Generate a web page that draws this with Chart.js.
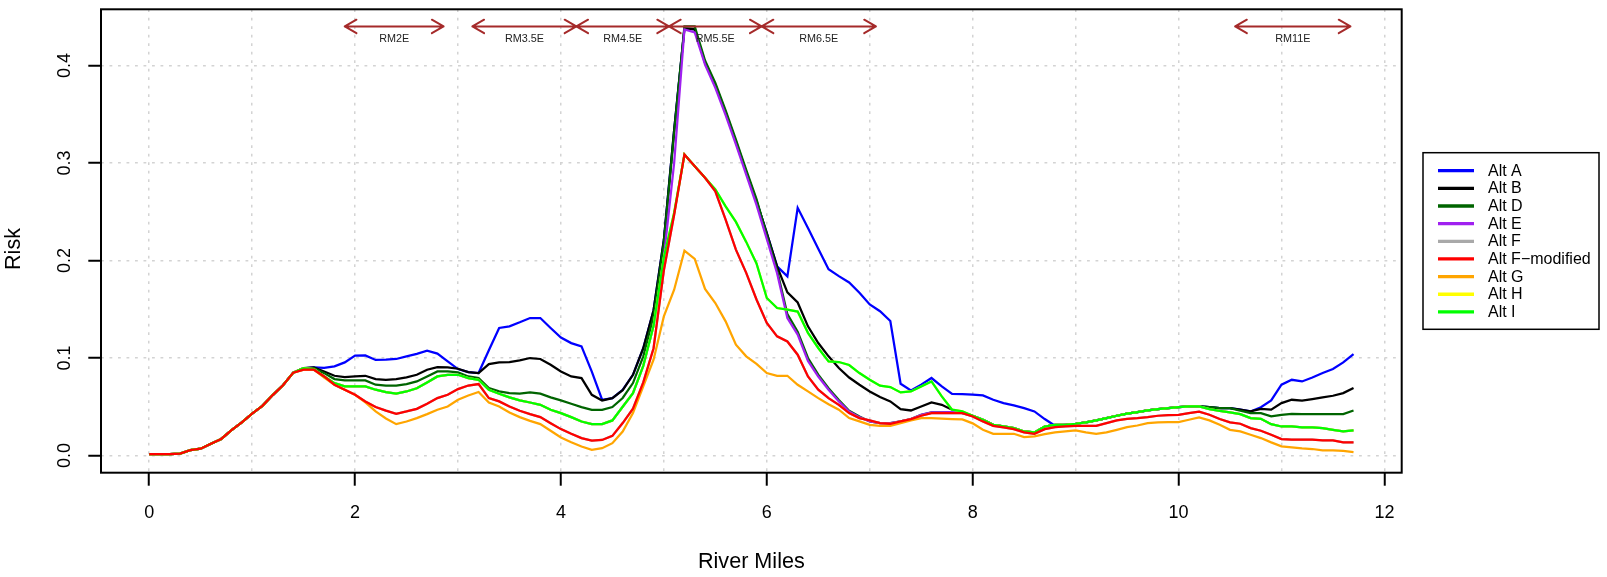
<!DOCTYPE html>
<html>
<head>
<meta charset="utf-8">
<script src="https://cdn.jsdelivr.net/npm/chart.js@4"></script>
<style>
  html, body { margin: 0; padding: 0; background: #fff; }
  canvas { display: block; }
</style>
</head>
<body>
<canvas id="riskChart" width="1607" height="577"></canvas>
<script>
// river mile of every sample
const miles = [
  0.0, 0.1, 0.2, 0.3, 0.4, 0.5, 0.6, 0.7, 0.8, 0.9,
  1.0, 1.1, 1.2, 1.3, 1.4, 1.5, 1.6, 1.7, 1.8, 1.9,
  2.0, 2.1, 2.2, 2.3, 2.4, 2.5, 2.6, 2.7, 2.8, 2.9,
  3.0, 3.1, 3.2, 3.3, 3.4, 3.5, 3.6, 3.7, 3.8, 3.9,
  4.0, 4.1, 4.2, 4.3, 4.4, 4.5, 4.6, 4.7, 4.8, 4.9,
  5.0, 5.1, 5.2, 5.3, 5.4, 5.5, 5.6, 5.7, 5.8, 5.9,
  6.0, 6.1, 6.2, 6.3, 6.4, 6.5, 6.6, 6.7, 6.8, 6.9,
  7.0, 7.1, 7.2, 7.3, 7.4, 7.5, 7.6, 7.7, 7.8, 7.9,
  8.0, 8.1, 8.2, 8.3, 8.4, 8.5, 8.6, 8.7, 8.8, 8.9,
  9.0, 9.1, 9.2, 9.3, 9.4, 9.5, 9.6, 9.7, 9.8, 9.9,
  10.0, 10.1, 10.2, 10.3, 10.4, 10.5, 10.6, 10.7, 10.8, 10.9,
  11.0, 11.1, 11.2, 11.3, 11.4, 11.5, 11.6, 11.7
];

const altA = [
  0.0015, 0.0015, 0.0015, 0.002, 0.0055, 0.007, 0.012, 0.017, 0.026, 0.034,
  0.043, 0.051, 0.062, 0.072, 0.085, 0.0895, 0.0904, 0.0900, 0.0914, 0.0955,
  0.1024, 0.1027, 0.0980, 0.0983, 0.0990, 0.1016, 0.1043, 0.1075, 0.1045, 0.0965,
  0.0887, 0.0856, 0.0846, 0.1080, 0.1308, 0.1325, 0.1366, 0.1410, 0.1410, 0.1308,
  0.1210, 0.1153, 0.1120, 0.0860, 0.0572, 0.0589, 0.0674, 0.0828, 0.1100, 0.1490,
  0.2210, 0.3340, 0.4380, 0.4370, 0.4030, 0.3800, 0.3520, 0.3220, 0.2910, 0.2610,
  0.2280, 0.1940, 0.1838, 0.2540, 0.2334, 0.2120, 0.1910, 0.1840, 0.1775, 0.1670,
  0.1550, 0.1480, 0.1380, 0.0736, 0.0668, 0.0726, 0.0795, 0.0709, 0.0632, 0.0630,
  0.0625, 0.0616, 0.0572, 0.0538, 0.0514, 0.0486, 0.0452, 0.0374, 0.0305, 0.0315,
  0.0326, 0.0340, 0.0360, 0.0384, 0.0408, 0.0429, 0.0445, 0.0462, 0.0476, 0.0486,
  0.0497, 0.0503, 0.0503, 0.0497, 0.0486, 0.0486, 0.0470, 0.0452, 0.0496, 0.0565,
  0.0726, 0.0777, 0.0760, 0.0801, 0.0846, 0.0887, 0.0955, 0.1041
];

const altB = [
  0.0015, 0.0015, 0.0015, 0.002, 0.0055, 0.007, 0.012, 0.017, 0.026, 0.034,
  0.043, 0.051, 0.062, 0.072, 0.085, 0.0897, 0.0904, 0.0862, 0.0818, 0.0804,
  0.0811, 0.0818, 0.0784, 0.0777, 0.0784, 0.0801, 0.0828, 0.0880, 0.0907, 0.0904,
  0.0890, 0.0856, 0.0846, 0.0938, 0.0955, 0.0958, 0.0975, 0.1000, 0.0990, 0.0931,
  0.0862, 0.0811, 0.0794, 0.0623, 0.0565, 0.0589, 0.0670, 0.0828, 0.1100, 0.1490,
  0.2210, 0.3340, 0.4380, 0.4370, 0.4030, 0.3800, 0.3520, 0.3220, 0.2910, 0.2610,
  0.2280, 0.1940, 0.1674, 0.1570, 0.1325, 0.1154, 0.1017, 0.0897, 0.0800, 0.0726,
  0.0657, 0.0600, 0.0555, 0.0476, 0.0462, 0.0503, 0.0544, 0.0520, 0.0470, 0.0435,
  0.0408, 0.0367, 0.0315, 0.0298, 0.0281, 0.0247, 0.0237, 0.0298, 0.0315, 0.0315,
  0.0326, 0.0340, 0.0360, 0.0384, 0.0408, 0.0429, 0.0445, 0.0462, 0.0476, 0.0486,
  0.0497, 0.0503, 0.0503, 0.0497, 0.0486, 0.0486, 0.0470, 0.0452, 0.0479, 0.0470,
  0.0538, 0.0572, 0.0562, 0.0579, 0.0596, 0.0613, 0.0640, 0.0692
];

const altD = [
  0.0015, 0.0015, 0.0015, 0.002, 0.0055, 0.007, 0.012, 0.017, 0.026, 0.034,
  0.043, 0.051, 0.062, 0.072, 0.085, 0.0897, 0.0897, 0.0845, 0.0784, 0.0770,
  0.0770, 0.0770, 0.0726, 0.0716, 0.0716, 0.0733, 0.0760, 0.0811, 0.0862, 0.0862,
  0.0852, 0.0811, 0.0794, 0.0692, 0.0658, 0.0641, 0.0634, 0.0648, 0.0634, 0.0596,
  0.0565, 0.0531, 0.0497, 0.0469, 0.0469, 0.0497, 0.0590, 0.0743, 0.1017, 0.1427,
  0.2180, 0.3310, 0.4400, 0.4400, 0.4050, 0.3820, 0.3540, 0.3240, 0.2930, 0.2630,
  0.2260, 0.1900, 0.1450, 0.1270, 0.1000, 0.0830, 0.0690, 0.0570, 0.0460, 0.0400,
  0.0350, 0.0333, 0.0333, 0.0350, 0.0374, 0.0418, 0.0442, 0.0442, 0.0445, 0.0445,
  0.0408, 0.0367, 0.0315, 0.0298, 0.0281, 0.0247, 0.0237, 0.0298, 0.0315, 0.0315,
  0.0326, 0.0340, 0.0360, 0.0384, 0.0408, 0.0429, 0.0445, 0.0462, 0.0476, 0.0486,
  0.0497, 0.0503, 0.0503, 0.0497, 0.0486, 0.0486, 0.0459, 0.0435, 0.0435, 0.0401,
  0.0418, 0.0428, 0.0425, 0.0425, 0.0425, 0.0425, 0.0425, 0.0462
];

const altE = [
  0.0015, 0.0015, 0.0015, 0.002, 0.0055, 0.007, 0.012, 0.017, 0.026, 0.034,
  0.043, 0.051, 0.062, 0.072, 0.085, 0.0895, 0.0887, 0.0811, 0.0743, 0.0709,
  0.0709, 0.0709, 0.0675, 0.0650, 0.0636, 0.0657, 0.0690, 0.0750, 0.0811, 0.0828,
  0.0828, 0.0794, 0.0777, 0.0675, 0.0634, 0.0596, 0.0565, 0.0544, 0.0520, 0.0469,
  0.0435, 0.0394, 0.0349, 0.0322, 0.0322, 0.0360, 0.0500, 0.0640, 0.0920, 0.1330,
  0.2030, 0.3000, 0.4370, 0.4340, 0.4010, 0.3770, 0.3490, 0.3190, 0.2880, 0.2570,
  0.2220, 0.1870, 0.1410, 0.1240, 0.0970, 0.0810, 0.0675, 0.0555, 0.0452, 0.0394,
  0.0350, 0.0333, 0.0333, 0.0350, 0.0374, 0.0418, 0.0442, 0.0442, 0.0445, 0.0445,
  0.0408, 0.0367, 0.0315, 0.0298, 0.0281, 0.0247, 0.0237, 0.0298, 0.0315, 0.0315,
  0.0326, 0.0340, 0.0360, 0.0384, 0.0408, 0.0429, 0.0445, 0.0462, 0.0476, 0.0486,
  0.0497, 0.0503, 0.0503, 0.0476, 0.0459, 0.0442, 0.0425, 0.0384, 0.0377, 0.0322,
  0.0298, 0.0298, 0.0288, 0.0288, 0.0281, 0.0264, 0.0247, 0.0257
];

// Alt F sits exactly under Alt F-modified in the picture
const altF = [
  0.0015, 0.0015, 0.0015, 0.002, 0.0055, 0.007, 0.012, 0.017, 0.026, 0.034,
  0.043, 0.051, 0.062, 0.072, 0.085, 0.0880, 0.0880, 0.0811, 0.0726, 0.0675,
  0.0623, 0.0555, 0.0497, 0.0460, 0.0428, 0.0452, 0.0479, 0.0531, 0.0589, 0.0623,
  0.0681, 0.0718, 0.0733, 0.0589, 0.0555, 0.0503, 0.0459, 0.0425, 0.0394, 0.0332,
  0.0271, 0.0223, 0.0179, 0.0154, 0.0160, 0.0202, 0.0333, 0.0480, 0.0750, 0.1100,
  0.1900, 0.2470, 0.3087, 0.2967, 0.2848, 0.2710, 0.2420, 0.2112, 0.1873, 0.1600,
  0.1360, 0.1222, 0.1170, 0.1034, 0.0811, 0.0675, 0.0589, 0.0520, 0.0435, 0.0384,
  0.0360, 0.0333, 0.0326, 0.0350, 0.0374, 0.0408, 0.0435, 0.0435, 0.0435, 0.0435,
  0.0401, 0.0350, 0.0305, 0.0288, 0.0271, 0.0237, 0.0223, 0.0271, 0.0291, 0.0298,
  0.0305, 0.0305, 0.0305, 0.0333, 0.0360, 0.0377, 0.0384, 0.0394, 0.0408, 0.0415,
  0.0418, 0.0435, 0.0449, 0.0418, 0.0374, 0.0340, 0.0326, 0.0281, 0.0254, 0.0213,
  0.0169, 0.0162, 0.0162, 0.0162, 0.0155, 0.0155, 0.0135, 0.0135
];

const altFmod = [
  0.0015, 0.0015, 0.0015, 0.002, 0.0055, 0.007, 0.012, 0.017, 0.026, 0.034,
  0.043, 0.051, 0.062, 0.072, 0.085, 0.0880, 0.0880, 0.0811, 0.0726, 0.0675,
  0.0623, 0.0555, 0.0497, 0.0460, 0.0428, 0.0452, 0.0479, 0.0531, 0.0589, 0.0623,
  0.0681, 0.0718, 0.0733, 0.0589, 0.0555, 0.0503, 0.0459, 0.0425, 0.0394, 0.0332,
  0.0271, 0.0223, 0.0179, 0.0154, 0.0160, 0.0202, 0.0333, 0.0480, 0.0750, 0.1100,
  0.1900, 0.2470, 0.3087, 0.2967, 0.2848, 0.2710, 0.2420, 0.2112, 0.1873, 0.1600,
  0.1360, 0.1222, 0.1170, 0.1034, 0.0811, 0.0675, 0.0589, 0.0520, 0.0435, 0.0384,
  0.0360, 0.0333, 0.0326, 0.0350, 0.0374, 0.0408, 0.0435, 0.0435, 0.0435, 0.0435,
  0.0401, 0.0350, 0.0305, 0.0288, 0.0271, 0.0237, 0.0223, 0.0271, 0.0291, 0.0298,
  0.0305, 0.0305, 0.0305, 0.0333, 0.0360, 0.0377, 0.0384, 0.0394, 0.0408, 0.0415,
  0.0418, 0.0435, 0.0449, 0.0418, 0.0374, 0.0340, 0.0326, 0.0281, 0.0254, 0.0213,
  0.0169, 0.0162, 0.0162, 0.0162, 0.0155, 0.0155, 0.0135, 0.0135
];

const altG = [
  0.0015, 0.0015, 0.0015, 0.002, 0.0055, 0.007, 0.012, 0.017, 0.026, 0.034,
  0.043, 0.051, 0.062, 0.072, 0.085, 0.0880, 0.0880, 0.0800, 0.0726, 0.0675,
  0.0623, 0.0545, 0.0452, 0.0380, 0.0322, 0.0349, 0.0384, 0.0425, 0.0469, 0.0503,
  0.0572, 0.0616, 0.0651, 0.0544, 0.0503, 0.0442, 0.0394, 0.0356, 0.0322, 0.0254,
  0.0185, 0.0137, 0.0092, 0.0058, 0.0075, 0.0127, 0.0246, 0.0435, 0.0709, 0.0983,
  0.1427, 0.1700, 0.2101, 0.2016, 0.1708, 0.1564, 0.1376, 0.1137, 0.1017, 0.0940,
  0.0846, 0.0818, 0.0818, 0.0726, 0.0658, 0.0589, 0.0527, 0.0470, 0.0384, 0.0350,
  0.0315, 0.0305, 0.0305, 0.0333, 0.0360, 0.0384, 0.0384, 0.0378, 0.0374, 0.0370,
  0.0330, 0.0264, 0.0223, 0.0223, 0.0223, 0.0189, 0.0196, 0.0219, 0.0237, 0.0247,
  0.0257, 0.0237, 0.0223, 0.0237, 0.0264, 0.0291, 0.0308, 0.0333, 0.0339, 0.0343,
  0.0343, 0.0367, 0.0391, 0.0360, 0.0315, 0.0264, 0.0247, 0.0213, 0.0179, 0.0135,
  0.0094, 0.0084, 0.0074, 0.0067, 0.0053, 0.0053, 0.0047, 0.0036
];

// Alt H sits exactly under Alt I in the picture
const altH = [
  0.0015, 0.0015, 0.0015, 0.002, 0.0055, 0.007, 0.012, 0.017, 0.026, 0.034,
  0.043, 0.051, 0.062, 0.072, 0.085, 0.0895, 0.0887, 0.0811, 0.0743, 0.0709,
  0.0709, 0.0709, 0.0675, 0.0650, 0.0636, 0.0657, 0.0690, 0.0750, 0.0811, 0.0828,
  0.0828, 0.0794, 0.0777, 0.0675, 0.0634, 0.0596, 0.0565, 0.0544, 0.0520, 0.0469,
  0.0435, 0.0394, 0.0349, 0.0322, 0.0322, 0.0360, 0.0500, 0.0640, 0.0920, 0.1330,
  0.2030, 0.2490, 0.3087, 0.2967, 0.2848, 0.2728, 0.2555, 0.2396, 0.2191, 0.1969,
  0.1616, 0.1513, 0.1496, 0.1476, 0.1258, 0.1103, 0.0966, 0.0959, 0.0928, 0.0846,
  0.0777, 0.0716, 0.0702, 0.0647, 0.0657, 0.0709, 0.0760, 0.0606, 0.0470, 0.0452,
  0.0408, 0.0367, 0.0315, 0.0298, 0.0281, 0.0247, 0.0237, 0.0298, 0.0315, 0.0315,
  0.0326, 0.0340, 0.0360, 0.0384, 0.0408, 0.0429, 0.0445, 0.0462, 0.0476, 0.0486,
  0.0497, 0.0503, 0.0503, 0.0476, 0.0459, 0.0442, 0.0425, 0.0384, 0.0377, 0.0322,
  0.0298, 0.0298, 0.0288, 0.0288, 0.0281, 0.0264, 0.0247, 0.0257
];

const altI = [
  0.0015, 0.0015, 0.0015, 0.002, 0.0055, 0.007, 0.012, 0.017, 0.026, 0.034,
  0.043, 0.051, 0.062, 0.072, 0.085, 0.0895, 0.0887, 0.0811, 0.0743, 0.0709,
  0.0709, 0.0709, 0.0675, 0.0650, 0.0636, 0.0657, 0.0690, 0.0750, 0.0811, 0.0828,
  0.0828, 0.0794, 0.0777, 0.0675, 0.0634, 0.0596, 0.0565, 0.0544, 0.0520, 0.0469,
  0.0435, 0.0394, 0.0349, 0.0322, 0.0322, 0.0360, 0.0500, 0.0640, 0.0920, 0.1330,
  0.2030, 0.2490, 0.3087, 0.2967, 0.2848, 0.2728, 0.2555, 0.2396, 0.2191, 0.1969,
  0.1616, 0.1513, 0.1496, 0.1476, 0.1258, 0.1103, 0.0966, 0.0959, 0.0928, 0.0846,
  0.0777, 0.0716, 0.0702, 0.0647, 0.0657, 0.0709, 0.0760, 0.0606, 0.0470, 0.0452,
  0.0408, 0.0367, 0.0315, 0.0298, 0.0281, 0.0247, 0.0237, 0.0298, 0.0315, 0.0315,
  0.0326, 0.0340, 0.0360, 0.0384, 0.0408, 0.0429, 0.0445, 0.0462, 0.0476, 0.0486,
  0.0497, 0.0503, 0.0503, 0.0476, 0.0459, 0.0442, 0.0425, 0.0384, 0.0377, 0.0322,
  0.0298, 0.0298, 0.0288, 0.0288, 0.0281, 0.0264, 0.0247, 0.0257
];

const seriesNames = ['Alt A', 'Alt B', 'Alt D', 'Alt E', 'Alt F', 'Alt F\u2212modified', 'Alt G', 'Alt H', 'Alt I'];
const seriesValues = [altA, altB, altD, altE, altF, altFmod, altG, altH, altI];
const seriesColors = ['#0000FF', '#000000', '#006400', '#A020F0', '#A9A9A9', '#FF0000', '#FFA500', '#FFFF00', '#00FF00'];
// stacking: lower number is painted later (on top); F-modified ends up on top
const seriesOrder = [9, 8, 7, 6, 5, 1, 4, 3, 2];

// reach markers along the top
const reachLabels = ['RM2E', 'RM3.5E', 'RM4.5E', 'RM5.5E', 'RM6.5E', 'RM11E'];
const reachStart = [1.9, 3.14, 4.15, 5.05, 5.95, 10.55];
const reachEnd = [2.86, 4.15, 5.05, 5.95, 7.06, 11.67];
const reachArrowRisk = 0.44;
const reachTextRisk = 0.427;

const xTicks = [0, 1, 2, 3, 4, 5, 6, 7, 8, 9, 10, 11, 12];
const yTicks = [0, 0.1, 0.2, 0.3, 0.4];

const fontFamily = '"Liberation Sans", Arial, Helvetica, sans-serif';
const gridColor = '#D3D3D3';
const arrowColor = '#A52A2A';

const datasets = seriesNames.map((name, i) => ({
  label: name,
  data: miles.map((m, j) => ({ x: m, y: seriesValues[i][j] })),
  borderColor: seriesColors[i],
  backgroundColor: seriesColors[i],
  borderWidth: 2.25,
  pointRadius: 0,
  fill: false,
  tension: 0,
  order: seriesOrder[i]
}));

// no label overflow padding, the plot box is placed by layout.padding
function noLabelPadding(s) {
  s.paddingTop = 0;
  s.paddingBottom = 0;
  s.paddingLeft = 0;
  s.paddingRight = 0;
}

const overlay = {
  id: 'overlay',
  afterDatasetsDraw(chart) {
    const { ctx, scales: { x, y } } = chart;
    const ay = y.getPixelForValue(reachArrowRisk);
    const ty = y.getPixelForValue(reachTextRisk);
    const hl = 13.5;
    const dx = hl * Math.cos(Math.PI / 6);
    const dy = hl * Math.sin(Math.PI / 6);
    ctx.save();
    ctx.strokeStyle = arrowColor;
    ctx.lineWidth = 2;
    ctx.lineCap = 'round';
    ctx.lineJoin = 'round';
    reachLabels.forEach((lab, i) => {
      const x0 = x.getPixelForValue(reachStart[i]);
      const x1 = x.getPixelForValue(reachEnd[i]);
      ctx.beginPath();
      ctx.moveTo(x0, ay);
      ctx.lineTo(x1, ay);
      ctx.moveTo(x0 + dx, ay - dy);
      ctx.lineTo(x0, ay);
      ctx.lineTo(x0 + dx, ay + dy);
      ctx.moveTo(x1 - dx, ay - dy);
      ctx.lineTo(x1, ay);
      ctx.lineTo(x1 - dx, ay + dy);
      ctx.stroke();
      ctx.fillStyle = '#222';
      ctx.font = '10.8px ' + fontFamily;
      ctx.textAlign = 'center';
      ctx.textBaseline = 'middle';
      ctx.fillText(lab, (x0 + x1) / 2, ty);
    });
    ctx.restore();
  },
  afterDraw(chart) {
    const { ctx, chartArea: a } = chart;
    ctx.save();
    // plot box
    ctx.strokeStyle = '#000';
    ctx.lineWidth = 2;
    ctx.strokeRect(a.left, a.top, a.right - a.left, a.bottom - a.top);

    // y axis title, sits a little below the middle of the box in the original
    ctx.save();
    ctx.translate(14.3, 249);
    ctx.rotate(-Math.PI / 2);
    ctx.fillStyle = '#000';
    ctx.font = '21.6px ' + fontFamily;
    ctx.textAlign = 'center';
    ctx.textBaseline = 'middle';
    ctx.fillText('Risk', 0, 0);
    ctx.restore();

    // legend, outside on the right
    const lx = 1423, ly = 152.7, lw = 176, lh = 176.6;
    ctx.lineWidth = 1.5;
    ctx.strokeRect(lx, ly, lw, lh);
    ctx.font = '16px ' + fontFamily;
    ctx.textAlign = 'left';
    ctx.textBaseline = 'middle';
    seriesNames.forEach((name, i) => {
      const rowY = 170.7 + i * 17.65;
      ctx.strokeStyle = seriesColors[i];
      ctx.lineWidth = 3.3;
      ctx.beginPath();
      ctx.moveTo(1438, rowY);
      ctx.lineTo(1474, rowY);
      ctx.stroke();
      ctx.fillStyle = '#000';
      ctx.fillText(name, 1488, rowY + 0.5);
    });
    ctx.restore();
  }
};

new Chart('riskChart', {
  type: 'line',
  data: { datasets: datasets },
  plugins: [overlay],
  options: {
    responsive: false,
    animation: false,
    events: [],
    layout: { padding: { left: 0, right: 205.3, top: 9.3, bottom: 0 } },
    plugins: {
      legend: { display: false },
      tooltip: { enabled: false }
    },
    scales: {
      x: {
        type: 'linear',
        position: 'bottom',
        min: -0.468,
        max: 12.168,
        afterBuildTicks: s => { s.ticks = xTicks.map(v => ({ value: v })); },
        afterFit: s => { s.height = 104.3; noLabelPadding(s); },
        ticks: {
          autoSkip: false,
          maxRotation: 0,
          padding: 17,
          color: '#000',
          font: { family: fontFamily, size: 18 },
          callback: v => (v % 2 === 0 ? String(v) : '')
        },
        grid: {
          color: gridColor,
          lineWidth: 1.5,
          tickLength: 13,
          tickWidth: 2,
          tickColor: c => (c.tick && c.tick.value % 2 === 0 ? '#000' : 'rgba(0,0,0,0)')
        },
        border: { display: false, dash: [2.8, 5.7] },
        title: {
          display: true,
          text: 'River Miles',
          color: '#000',
          font: { family: fontFamily, size: 21.6 },
          padding: { top: 0, bottom: 2.3 }
        }
      },
      y: {
        type: 'linear',
        min: -0.0176,
        max: 0.4576,
        afterBuildTicks: s => { s.ticks = yTicks.map(v => ({ value: v })); },
        afterFit: s => { s.width = 101; noLabelPadding(s); },
        ticks: {
          minRotation: 90,
          maxRotation: 90,
          crossAlign: 'center',
          padding: 11,
          color: '#000',
          font: { family: fontFamily, size: 18 },
          callback: v => v.toFixed(1)
        },
        grid: {
          color: gridColor,
          lineWidth: 1.5,
          tickLength: 12.7,
          tickWidth: 2,
          tickColor: '#000'
        },
        border: { display: false, dash: [2.8, 5.7] }
      }
    }
  }
});
</script>
</body>
</html>
